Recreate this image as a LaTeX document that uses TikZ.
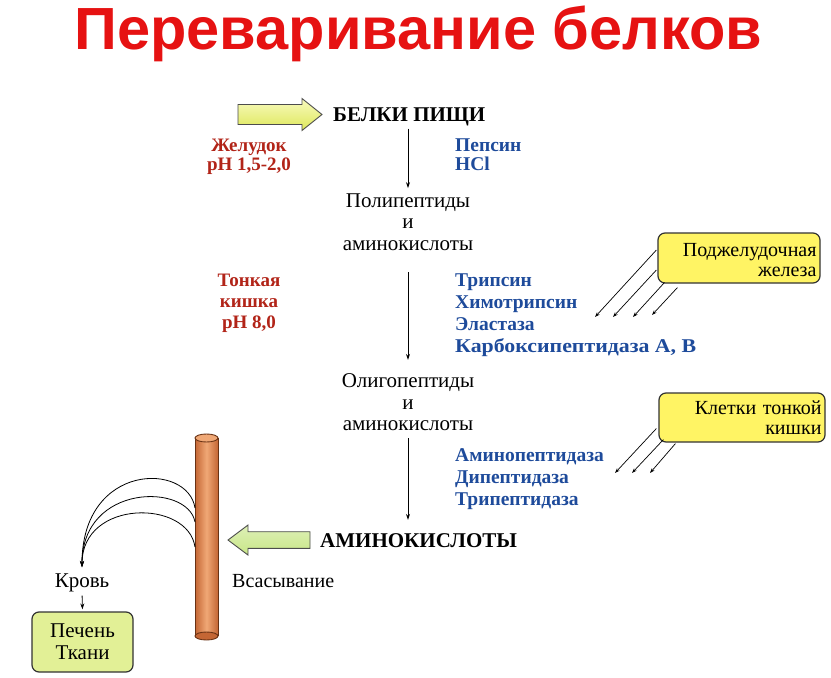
\documentclass[tikz,border=0pt]{standalone}
\usepackage{fontspec}
\setmainfont{Liberation Serif}
\newfontfamily\titlefont{Liberation Sans}
\usetikzlibrary{arrows.meta}
\definecolor{titlered}{RGB}{230,18,18}
\definecolor{labred}{RGB}{178,36,24}
\definecolor{enzblue}{RGB}{30,75,155}
\definecolor{boxyellow}{RGB}{255,244,100}
\definecolor{boxgreen}{RGB}{226,240,150}
\definecolor{arrowyellowA}{RGB}{248,250,190}
\definecolor{arrowyellowB}{RGB}{222,232,90}
\definecolor{arrowgreen}{RGB}{200,230,135}
\definecolor{tubeA}{RGB}{196,102,52}
\definecolor{tubeB}{RGB}{240,168,118}
\definecolor{tubeline}{RGB}{105,50,20}
\begin{document}
\begin{tikzpicture}[x=1pt,y=-1pt,
  flowtext/.style={inner sep=0pt, font=\fontsize{21}{21.5}\selectfont},
  boldtext/.style={inner sep=0pt, font=\bfseries\fontsize{21}{21.5}\selectfont},
  redlabel/.style={inner sep=0pt, text=labred, align=center},
  enzlabel/.style={inner sep=0pt, text=enzblue, align=left},
  infobox/.style={draw=black!80, line width=1.2pt, rounded corners=7pt, inner xsep=3.5pt, inner ysep=0pt, font=\fontsize{20}{20}\selectfont},
  arr/.style={-{Stealth[length=6pt,width=4pt]}, line width=0.8pt},
  thinarr/.style={-{Stealth[length=5pt,width=3.5pt]}, line width=0.7pt}
]
\fill[white] (0,0) rectangle (831,678);
\useasboundingbox (0,0) rectangle (831,678);

% title
\node[anchor=base, inner sep=0pt, text=titlered, font=\titlefont\bfseries\fontsize{59.5}{59.5}\selectfont] (title) at (418.5,49) {Переваривание белков};

% main chain
\node[boldtext, anchor=base west] (food) at (333,121) {БЕЛКИ ПИЩИ};
\node[flowtext, anchor=base, align=center] (poly) at (408,250) {Полипептиды\\и\\аминокислоты};
\node[flowtext, anchor=base, align=center] (oligo) at (408,430.5) {Олигопептиды\\и\\аминокислоты};
\node[boldtext, anchor=base west] (amino) at (320,547) {АМИНОКИСЛОТЫ};

% red labels
\node[redlabel, anchor=base, font=\bfseries\fontsize{19}{18.3}\selectfont] (stomach) at (249,170) {Желудок\\pH 1,5-2,0};
\node[redlabel, anchor=base, font=\bfseries\fontsize{19}{20.7}\selectfont] (intestine) at (249,328) {Тонкая\\кишка\\pH 8,0};

% enzymes
\node[enzlabel, anchor=base west, font=\bfseries\fontsize{19.5}{18.3}\selectfont] (enzA) at (455,170) {Пепсин\\HCl};
\node[enzlabel, anchor=base west, font=\bfseries\fontsize{19.5}{21.7}\selectfont] (enzB) at (455,352) {Трипсин\\Химотрипсин\\Эластаза\\\scalebox{1.12}[1]{Карбоксипептидаза А, В}};
\node[enzlabel, anchor=base west, font=\bfseries\fontsize{19.5}{21.65}\selectfont] (enzC) at (455,505) {Аминопептидаза\\Дипептидаза\\Трипептидаза};

% source boxes
\node[infobox, fill=boxyellow, minimum width=162pt, minimum height=50pt, text width=155pt, align=right] (pancreas) at (739,258) {\rule{0pt}{18pt}Поджелудочная\\железа};
\node[infobox, fill=boxyellow, minimum width=166pt, minimum height=49pt, text width=159pt, align=right] (cells) at (742,417.5) {Клетки тонкой\\кишки};

% main arrows
\draw[arr, shorten <=3pt, shorten >=5pt] (food.south -| poly.north) -- (poly.north);
\draw[arr, shorten <=22pt, shorten >=13.5pt] (poly.south) -- (poly.south |- oligo.north);
\draw[arr, shorten <=7.5pt, shorten >=13pt] (oligo.south) -- (oligo.south |- amino.north);

% enzyme supply arrows
\coordinate (pa1) at (595,317);
\coordinate (pa2) at (613,317);
\coordinate (pa3) at (633,317);
\coordinate (pa4) at (652,315);
\draw[thinarr] ([shift={(-1,-8)}]pancreas.west) -- (pa1);
\draw[thinarr] ([shift={(-1,12)}]pancreas.west) -- (pa2);
\draw[thinarr] ([shift={(7,-1)}]pancreas.south west) -- (pa3);
\draw[thinarr] ([shift={(20,4)}]pancreas.south west) -- (pa4);
\coordinate (ca1) at (615,473);
\coordinate (ca2) at (632,473);
\coordinate (ca3) at (650,473);
\draw[thinarr] ([shift={(-2,11)}]cells.west) -- (ca1);
\draw[thinarr] ([shift={(5,-3)}]cells.south west) -- (ca2);
\draw[thinarr] ([shift={(17,1)}]cells.south west) -- (ca3);

% input arrow (yellow)
\shade[top color=arrowyellowA, bottom color=arrowyellowB, draw=black!70, line width=0.9pt]
  (238,104.5) -- (302,104.5) -- (302,98.5) -- (322,114.5) -- (302,130.5) -- (302,124.5) -- (238,124.5) -- cycle;

% absorption arrow (green)
\shade[top color=arrowgreen!60!white, bottom color=arrowgreen, draw=black!70, line width=0.9pt]
  (310,531.7) -- (248,531.7) -- (248,525) -- (228,540) -- (248,555) -- (248,548.3) -- (310,548.3) -- cycle;

% tube (intestinal wall)
\shade[left color=tubeA, right color=tubeA, middle color=tubeB] (195,438) rectangle (218,636);
\fill[tubeA] (206.5,636) ellipse [x radius=11.5, y radius=4];
\draw[tubeline, line width=0.9pt] (195,438) -- (195,636);
\draw[tubeline, line width=0.9pt] (218,438) -- (218,636);
\draw[tubeline, line width=0.9pt] (206.5,636) ellipse [x radius=11.5, y radius=4];
\filldraw[fill=tubeB, draw=tubeline, line width=0.9pt] (206.5,438) ellipse [x radius=11.5, y radius=4];

% blood, liver
\node[flowtext, anchor=base] (blood) at (82,587) {Кровь};
\node[inner sep=0pt, anchor=base west, font=\fontsize{20}{20}\selectfont] (absorb) at (232,587) {Всасывание};
\node[infobox, fill=boxgreen, minimum width=101pt, minimum height=60pt, align=center, font=\fontsize{21}{22}\selectfont] (liver) at (82.5,642) {Печень\\Ткани};

\coordinate (t1) at (195,508);
\coordinate (t2) at (195,522);
\coordinate (t3) at (195,547);
\draw[arr, shorten >=6pt] (t1) .. controls (188,462) and (82,462) .. (blood.north);
\draw[arr, shorten >=6pt] (t2) .. controls (188,483) and (82,483) .. (blood.north);
\draw[arr, shorten >=6pt] (t3) .. controls (188,499) and (82,499) .. (blood.north);
\draw[arr, shorten <=4pt, shorten >=2pt] (blood.south) -- (liver.north);
\end{tikzpicture}
\end{document}
